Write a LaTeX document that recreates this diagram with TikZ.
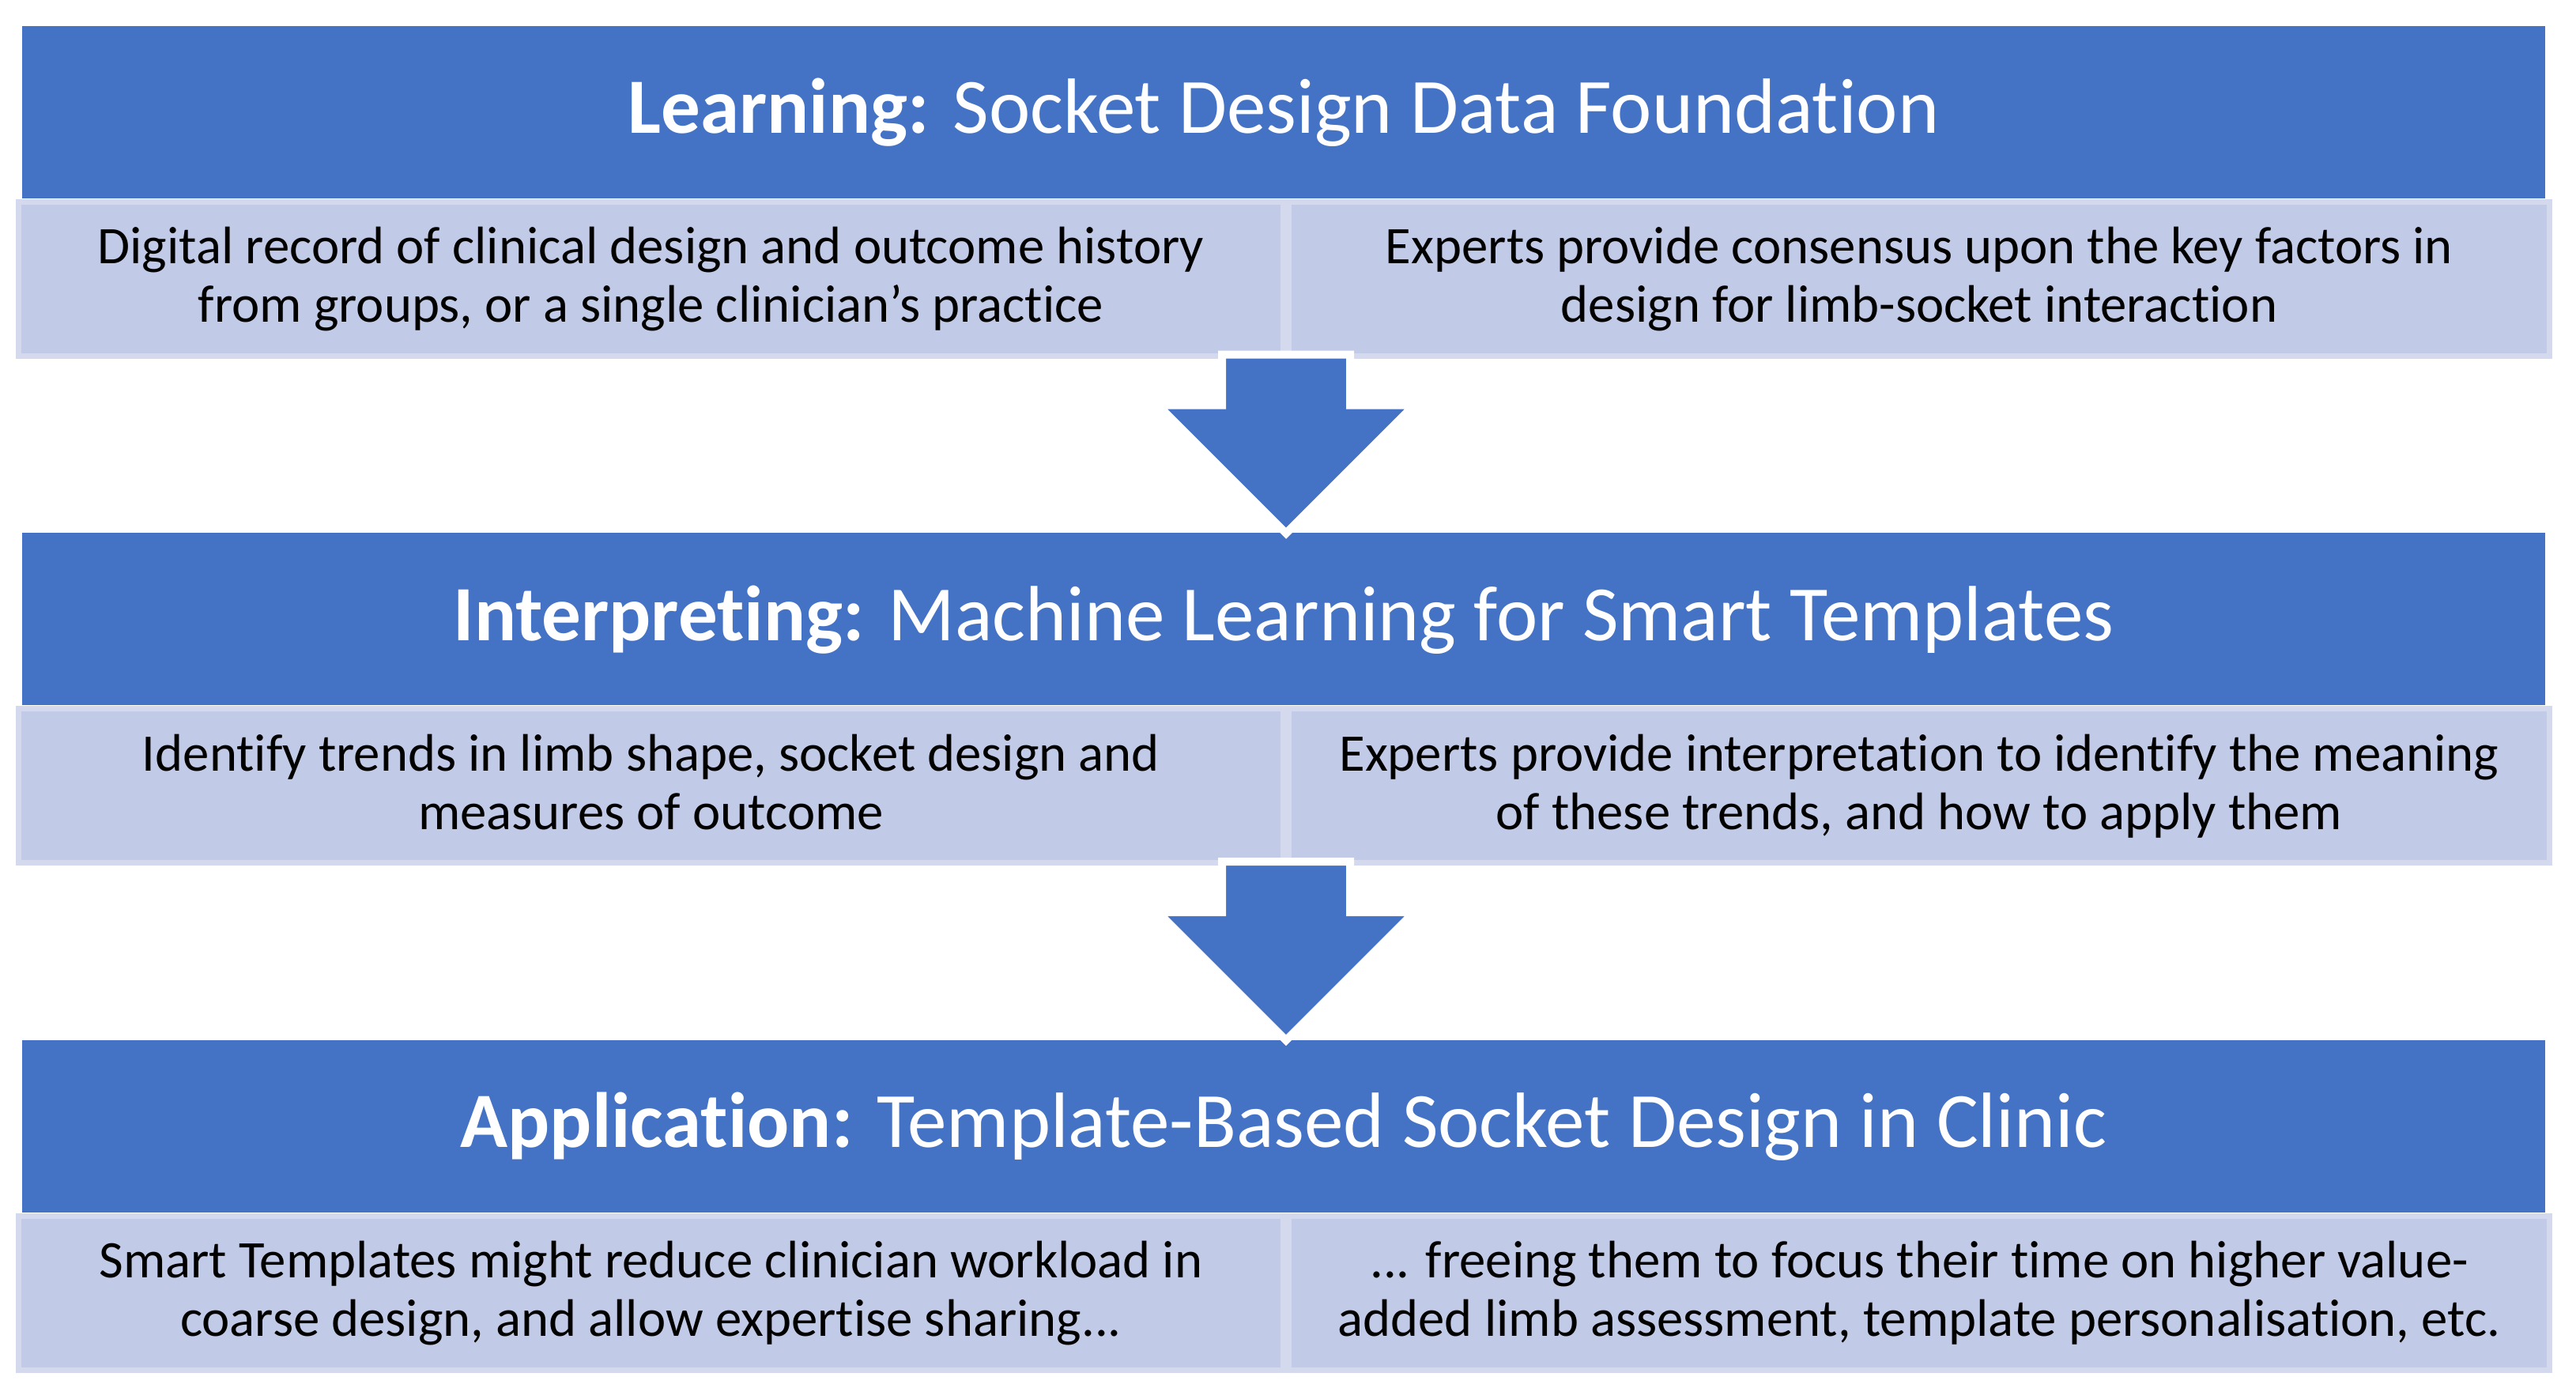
\documentclass[tikz,border=0pt]{standalone}
\usepackage{fontspec}
\setmainfont{Carlito}[Ligatures=NoCommon]
\usepackage{tikz}
\usetikzlibrary{positioning,calc}
\definecolor{headblue}{HTML}{4472C4}
\definecolor{cellfill}{HTML}{C1CAE6}
\definecolor{cellline}{HTML}{D4D9EE}
\newcommand{\titlesize}{\fontsize{28.2pt}{33pt}\selectfont}
\newcommand{\bodysize}{\fontsize{19pt}{21.06pt}\selectfont}

\begin{document}
\begin{tikzpicture}[
  stagehead/.style={fill=headblue,text=white,font=\titlesize,inner sep=0pt,
    minimum width=31.92cm,minimum height=2.18cm,text height=0.54cm,text depth=0cm},
  % the box of a two-line cell ends on its last line, hence the tall text height
  stagecell/.style={fill=cellfill,draw=cellline,line width=0.07cm,font=\bodysize,
    align=center,inner sep=0pt,minimum height=1.95cm,text height=1.3cm,text depth=0.2cm},
  stagearrow/.style={fill=headblue,draw=white,line width=0.1cm,line join=miter}]
\useasboundingbox (0,0) rectangle (32.59,-17.56);
% ---- stage 1: learning -------------------------------------------------
\node[stagehead] (hdA) at (16.24,-1.42) {\textbf{Learning:} Socket Design Data Foundation};
\node[stagecell,minimum width=16.0cm,below left=0pt and -0.03cm of hdA.south] (lcA)
  {Digital record of clinical design and outcome history\\from groups, or a single clinician’s practice};
\node[stagecell,minimum width=15.95cm,right=0pt of lcA] (rcA)
  {Experts provide consensus upon the key factors in\\design for limb-socket interaction};

% ---- stage 2: interpreting ---------------------------------------------
\node[stagehead,below=4.22cm of hdA] (hdB) {\textbf{Interpreting:} Machine Learning for Smart Templates};
\node[stagecell,minimum width=16.0cm,below left=0pt and -0.03cm of hdB.south] (lcB)
  {Identify trends in limb shape, socket design and\\measures of outcome};
\node[stagecell,minimum width=15.95cm,right=0pt of lcB] (rcB)
  {Experts provide interpretation to identify the meaning\\of these trends, and how to apply them};

% ---- stage 3: application ----------------------------------------------
\node[stagehead,below=4.22cm of hdB] (hdC) {\textbf{Application:} Template-Based Socket Design in Clinic};
\node[stagecell,minimum width=16.0cm,below left=0pt and -0.03cm of hdC.south] (lcC)
  {Smart Templates might reduce clinician workload in\\coarse design, and allow expertise sharing...};
\node[stagecell,minimum width=15.95cm,right=0pt of lcC] (rcC)
  {... freeing them to focus their time on higher value-\\added limb assessment, template personalisation, etc.};

% ---- block arrows between the stages -----------------------------------
% the tip sits 1px into the next header, so its white rim cuts a notch there;
% the shaft starts inside the cell rim, where the white stroke hardly shows
\coordinate (tipA) at ($(lcA.south east |- hdB.north)+(0,-0.01)$);
\coordinate (tipB) at ($(lcB.south east |- hdC.north)+(0,-0.01)$);
\draw[stagearrow] ($(lcA.south east)+(-0.81,0.05)$) -- ($(tipA)+(-0.81,1.62)$)
  -- ($(tipA)+(-1.62,1.62)$) -- (tipA) -- ($(tipA)+(1.62,1.62)$)
  -- ($(tipA)+(0.81,1.62)$) -- ($(lcA.south east)+(0.81,0.05)$) -- cycle;
\draw[stagearrow] ($(lcB.south east)+(-0.81,0.05)$) -- ($(tipB)+(-0.81,1.62)$)
  -- ($(tipB)+(-1.62,1.62)$) -- (tipB) -- ($(tipB)+(1.62,1.62)$)
  -- ($(tipB)+(0.81,1.62)$) -- ($(lcB.south east)+(0.81,0.05)$) -- cycle;
\end{tikzpicture}
\end{document}
